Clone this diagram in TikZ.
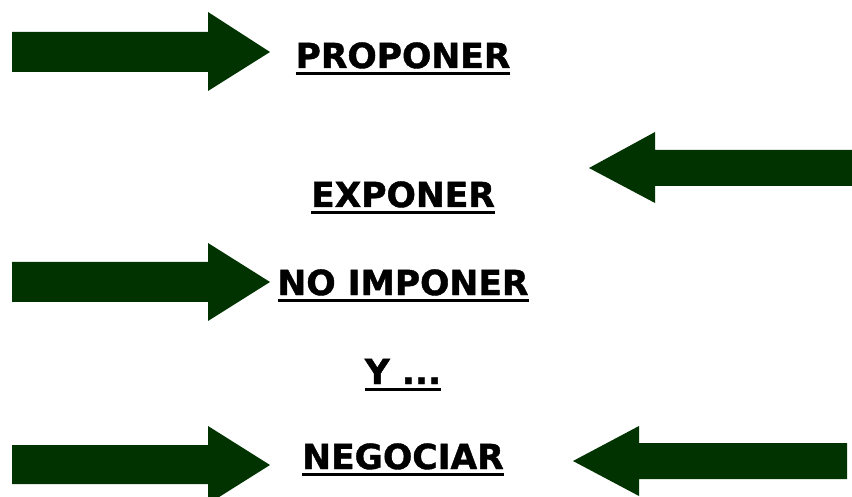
\documentclass[tikz,border=0pt]{standalone}
\usepackage{fontspec}
\setmainfont[BoldFeatures={FakeBold=1.2}]{DejaVu Sans}
\definecolor{arrowgreen}{RGB}{0,51,0}
\newcommand\ulword[1]{\setbox0=\hbox{#1}\rlap{\rule[-7.4pt]{\wd0}{3.5pt}}\box0}
\tikzset{
  bigarrow/.style={fill=arrowgreen, draw=none},
  label/.style={anchor=base, inner sep=0pt, font=\fontsize{34.5}{40}\selectfont\bfseries}
}
\begin{document}
\begin{tikzpicture}[x=1pt,y=-1pt]
\useasboundingbox (0,0) rectangle (852,497);
% right-pointing arrows
\fill[bigarrow] (12,32) -- (208,32) -- (208,12) -- (270,52) -- (208,91) -- (208,72) -- (12,72) -- cycle;
\fill[bigarrow] (12,262) -- (208,262) -- (208,243) -- (270,282) -- (208,321) -- (208,302) -- (12,302) -- cycle;
\fill[bigarrow] (12,445) -- (208,445) -- (208,426) -- (270,465) -- (208,504) -- (208,484) -- (12,484) -- cycle;
% left-pointing arrows
\fill[bigarrow] (852,150) -- (655,150) -- (655,132) -- (589,168) -- (655,203) -- (655,186) -- (852,186) -- cycle;
\fill[bigarrow] (847,443) -- (639,443) -- (639,426) -- (573,461) -- (639,496) -- (639,479) -- (847,479) -- cycle;
% labels
\node[label] (proponer) at (403,68) {\ulword{PROPONER}};
\node[label] (exponer) at (403,207) {\ulword{EXPONER}};
\node[label] (noimponer) at (403,295) {\ulword{NO IMPONER}};
\node[label] (y) at (403,384) {\ulword{Y ...}};
\node[label] (negociar) at (403,469) {\ulword{NEGOCIAR}};
\end{tikzpicture}
\end{document}
